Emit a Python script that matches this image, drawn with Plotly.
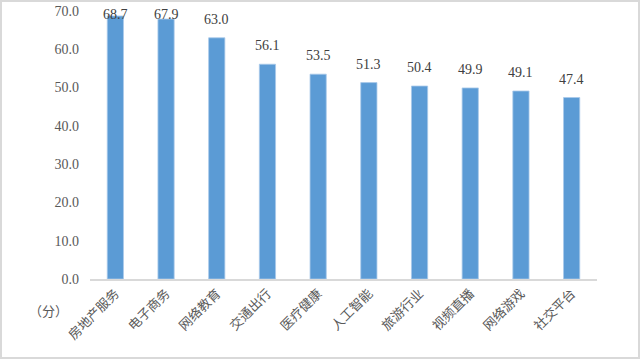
import plotly.graph_objects as go

categories = ["房地产服务", "电子商务", "网络教育", "交通出行", "医疗健康",
              "人工智能", "旅游行业", "视频直播", "网络游戏", "社交平台"]
values = [68.7, 67.9, 63.0, 56.1, 53.5, 51.3, 50.4, 49.9, 49.1, 47.4]
y_ticks = [0, 10, 20, 30, 40, 50, 60, 70]
unit_label = "（分）"

W, H = 640, 359
ml, mr, mt, mb = 90, 43, 11, 80
pw, ph = W - ml - mr, H - mt - mb
ymax = 70

font = "Liberation Serif, Noto Sans CJK SC, serif"

fig = go.Figure(go.Bar(
    x=categories, y=values,
    marker=dict(color="#5b9bd5", line=dict(width=0.8, color="#a9c9ea")),
    hoverinfo="x+y",
))

# value labels placed above each bar, kept inside the chart like the original
annotations = []
for c, v in zip(categories, values):
    bar_top = mt + ph * (1 - v / ymax)
    bottom = max(bar_top - 9, 24)
    annotations.append(dict(
        x=c, y=v, xref="x", yref="y", text=f"{v:.1f}", showarrow=False,
        xanchor="center", yanchor="bottom", yshift=bar_top - bottom,
        font=dict(family=font, size=14, color="#404040"),
    ))
annotations.append(dict(
    text=unit_label, xref="paper", yref="paper",
    x=-42 / pw, y=-31 / ph, xanchor="center", yanchor="middle",
    showarrow=False, font=dict(family="Noto Sans CJK SC", size=13, color="#595959"),
))

fig.update_layout(
    width=W, height=H,
    margin=dict(l=ml, r=mr, t=mt, b=mb, autoexpand=False),
    paper_bgcolor="white", plot_bgcolor="white",
    bargap=0.68,
    showlegend=False,
    font=dict(family=font, color="#595959"),
    xaxis=dict(
        tickangle=-45, showgrid=False, showline=True, automargin=False,
        linecolor="#d9d9d9", linewidth=1.5, ticks="",
        tickfont=dict(family="Noto Sans CJK SC", size=13, color="#595959"),
    ),
    yaxis=dict(
        range=[0, ymax], tickvals=y_ticks, tickformat=".1f", automargin=False,
        showgrid=False, zeroline=False, showline=False, ticks="",
        tickfont=dict(family=font, size=14, color="#595959"),
        ticklabelstandoff=10,
    ),
    annotations=annotations,
    shapes=[dict(
        type="rect", xref="paper", yref="paper",
        x0=-(ml - 1) / pw, x1=1 + (mr - 1) / pw,
        y0=-(mb - 1) / ph, y1=1 + (mt - 1) / ph,
        line=dict(color="#d9d9d9", width=2), fillcolor="rgba(0,0,0,0)",
        layer="below",
    )],
)

fig.write_html("out.html", config={"displayModeBar": False},
               post_script="document.body.style.margin='0';document.body.style.overflow='hidden';")
